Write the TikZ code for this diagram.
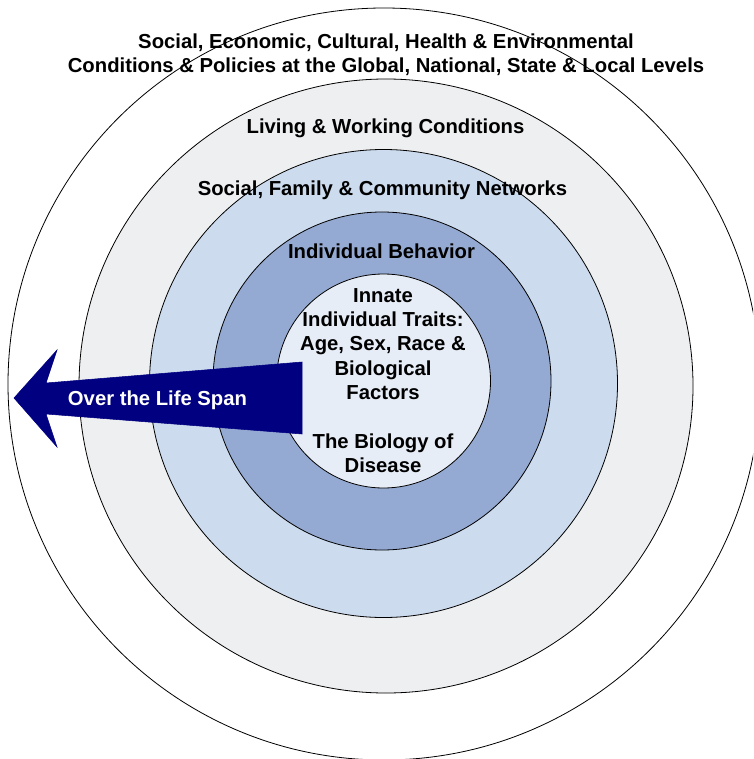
\documentclass[tikz,border=0pt]{standalone}
\usepackage{fontspec}
\setmainfont{Liberation Sans}
\definecolor{ringgray}{HTML}{EEEFF1}
\definecolor{ringblue}{HTML}{CCDBEE}
\definecolor{ringmid}{HTML}{95AAD2}
\definecolor{ringinner}{HTML}{E7EDF7}
\definecolor{arrownavy}{HTML}{000080}
\tikzset{
  ring/.style={draw=black, line width=0.6pt},
  lbl/.style={font=\fontsize{15.2pt}{18.3pt}\selectfont\bfseries, align=center, inner sep=0pt, text=black},
  arrowlbl/.style={lbl, text=white},
}
\begin{document}
\begin{tikzpicture}[x=0.75pt,y=-0.75pt]
\useasboundingbox (0,0) rectangle (753,759);
\clip (0,0) rectangle (753,759);
\fill[white] (0,0) rectangle (753,759);
\draw[ring, fill=white] (384,384) circle[radius=376];
\draw[ring, fill=ringgray] (386,386) circle[radius=307];
\draw[ring, fill=ringblue] (383.5,383.5) circle[radius=234];
\draw[ring, fill=ringmid] (382,381) circle[radius=169];
\draw[ring, fill=ringinner] (383.5,381) circle[radius=107];
% arrow
\fill[arrownavy, draw=arrownavy, line width=0.4pt, line join=miter]
  (14,398) -- (57,350) -- (46,383) -- (302,362) -- (302,434) -- (46,414) -- (57,447) -- cycle;
\node[arrowlbl] (span) at (157.5,400) {Over the Life Span};
% labels
\node[lbl] (global) at (386,55) {Social, Economic, Cultural, Health \& Environmental\\Conditions \& Policies at the Global, National, State \& Local Levels};
\node[lbl] (living) at (385.5,128) {Living \& Working Conditions};
\node[lbl] (social) at (382.5,190) {Social, Family \& Community Networks};
\node[lbl] (behav) at (381.5,251.5) {Individual Behavior};
\node[lbl] (innate) at (383,344) {Innate\\Individual Traits:\\Age, Sex, Race \&\\Biological\\Factors};
\node[lbl] (disease) at (383,453.5) {The Biology of\\Disease};
\end{tikzpicture}
\end{document}
